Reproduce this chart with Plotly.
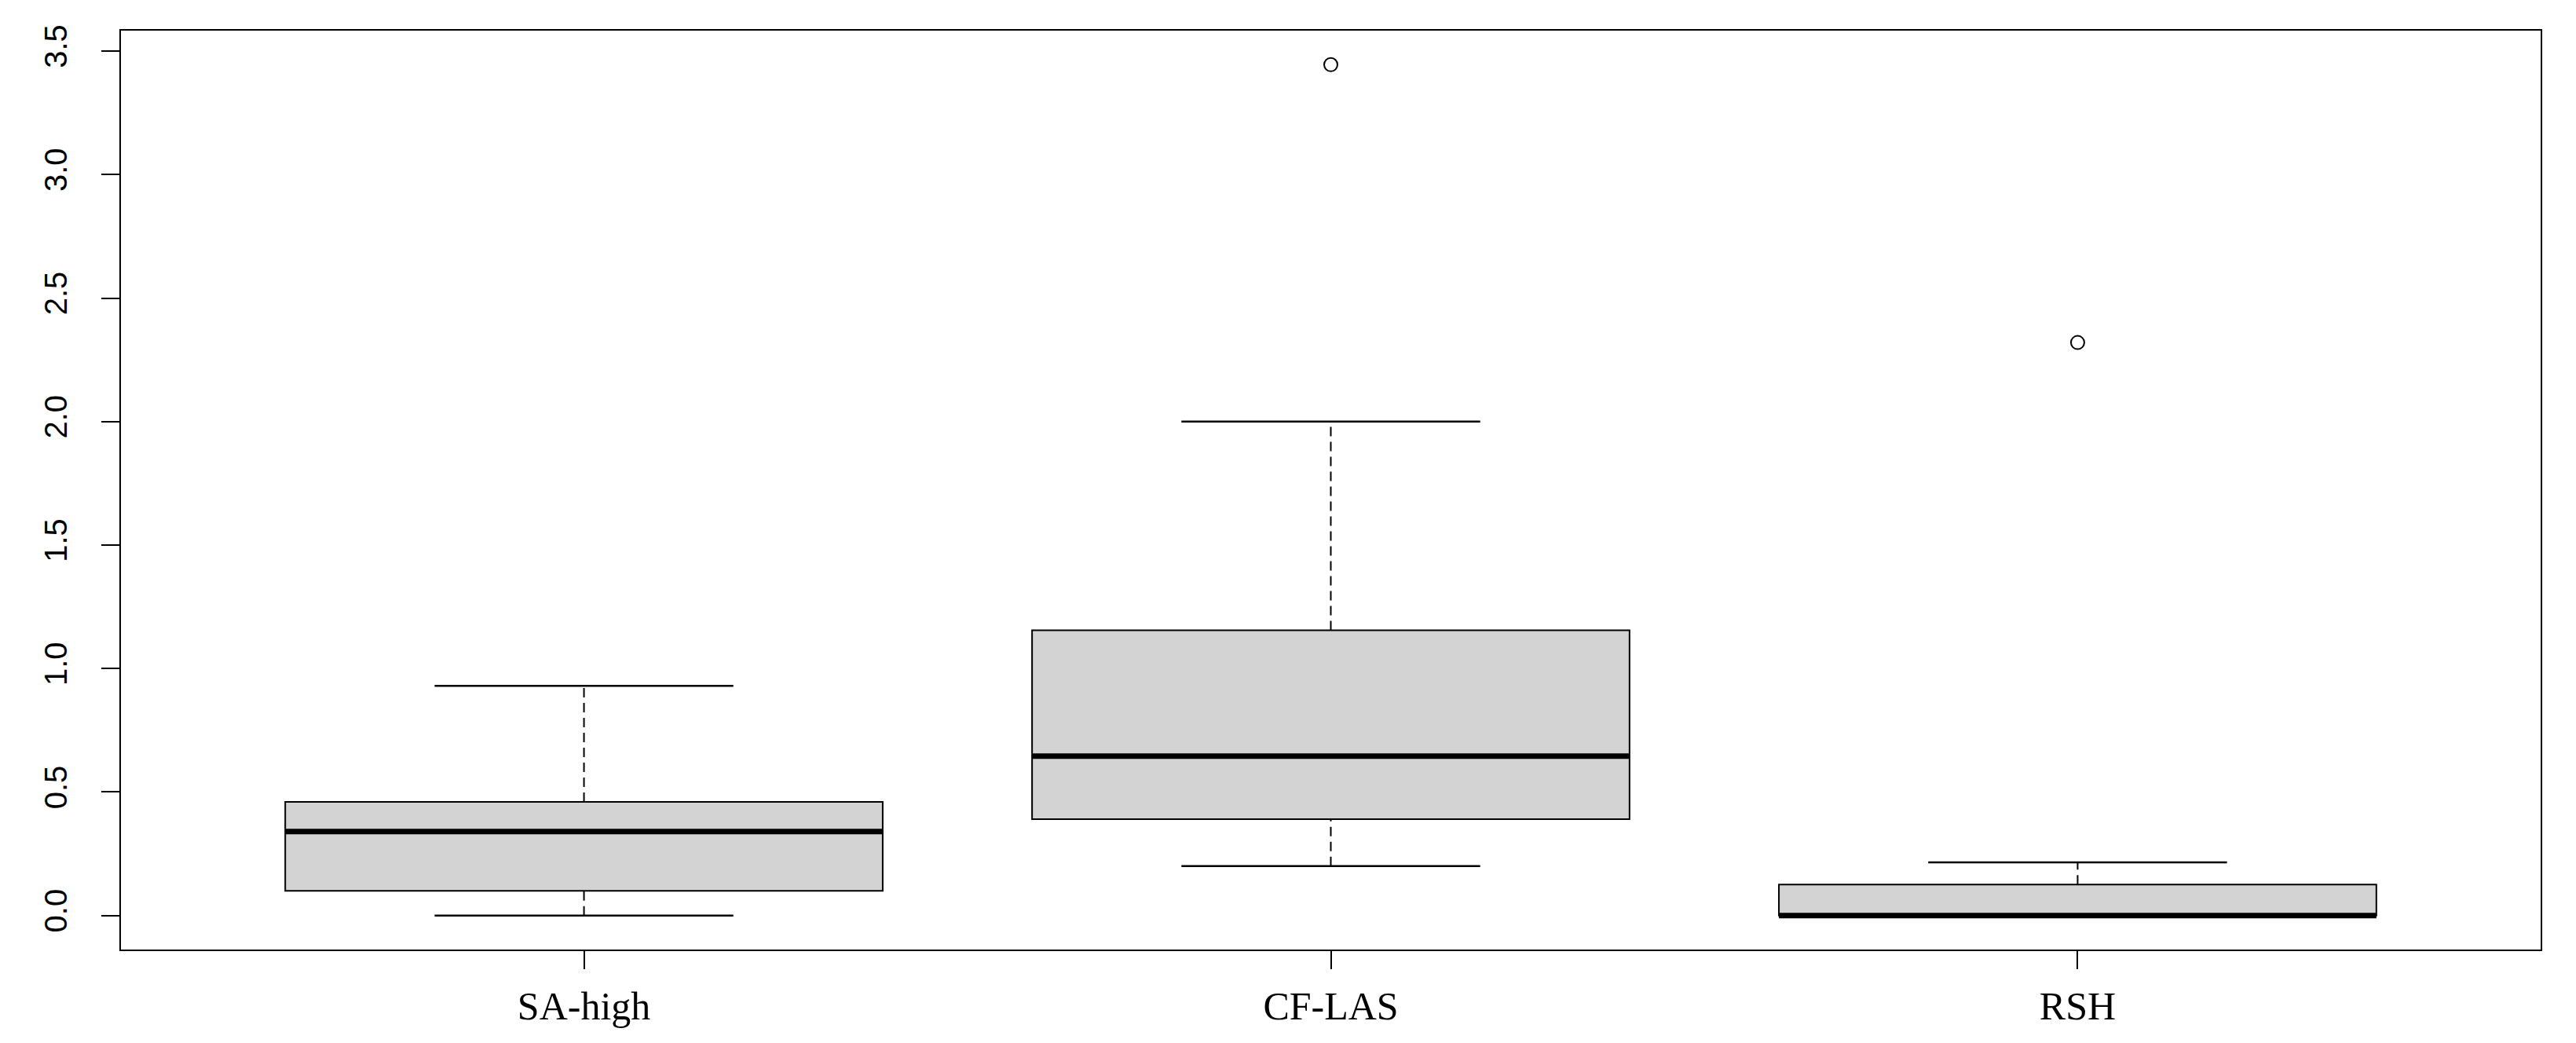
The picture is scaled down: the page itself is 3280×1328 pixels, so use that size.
import plotly.graph_objects as go

# group labels and positions on the x axis
groups = ["SA-high", "CF-LAS", "RSH"]
positions = [1, 2, 3]

# five-number summaries
lower = [0.0, 0.20, 0.0]
q1 = [0.10, 0.39, 0.0]
median = [0.34, 0.645, 0.0]
q3 = [0.46, 1.155, 0.125]
upper = [0.93, 2.0, 0.215]

# points beyond the whiskers
outlier_x = [2, 3]
outlier_y = [3.445, 2.32]

y_ticks = [0.0, 0.5, 1.0, 1.5, 2.0, 2.5, 3.0, 3.5]

BOX_W = 0.8

fig = go.Figure()

# box bodies (whiskers drawn separately so they can be dashed like base R)
for p, a, m, b in zip(positions, q1, median, q3):
    fig.add_trace(go.Box(
        x=[p], q1=[a], median=[m], q3=[b], lowerfence=[a], upperfence=[b],
        width=BOX_W, fillcolor="#D3D3D3", line=dict(color="black", width=2),
        boxpoints=False, hoverinfo="skip", showlegend=False,
    ))

# dashed whisker stems
sx, sy = [], []
for p, lo, a, b, hi in zip(positions, lower, q1, q3, upper):
    sx += [p, p, None, p, p, None]
    sy += [b, hi, None, lo, a, None]
fig.add_trace(go.Scatter(x=sx, y=sy, mode="lines", showlegend=False,
                         line=dict(color="black", width=2, dash="12px,7px")))

# whisker caps, half the box width
cx, cy = [], []
for p, lo, hi in zip(positions, lower, upper):
    for v in (lo, hi):
        cx += [p - BOX_W / 4, p + BOX_W / 4, None]
        cy += [v, v, None]
fig.add_trace(go.Scatter(x=cx, y=cy, mode="lines", showlegend=False,
                         line=dict(color="black", width=2.5)))

# thick median lines
mx, my = [], []
for p, m in zip(positions, median):
    mx += [p - BOX_W / 2, p + BOX_W / 2, None]
    my += [m, m, None]
fig.add_trace(go.Scatter(x=mx, y=my, mode="lines", showlegend=False,
                         line=dict(color="black", width=7)))

# outliers as open circles
fig.add_trace(go.Scatter(x=outlier_x, y=outlier_y, mode="markers", showlegend=False,
                         marker=dict(symbol="circle-open", size=17, color="black",
                                     line=dict(width=2))))

# R-like 4% padding around the data
ymin = min(lower)
ymax = max(outlier_y + upper)
pad = 0.04 * (ymax - ymin)
xpad = 0.04 * len(groups)

# the page body has an 8px default margin, so the figure is 8px smaller
fig.update_layout(
    width=3272, height=1320,
    margin=dict(l=146, r=45, t=31, b=119),
    paper_bgcolor="white", plot_bgcolor="white",
    showlegend=False,
)
fig.update_xaxes(
    range=[0.5 - xpad, len(groups) + 0.5 + xpad],
    tickvals=positions, ticktext=groups,
    tickfont=dict(family="Liberation Serif", size=50, color="black"),
    ticks="outside", ticklen=23, tickwidth=2, tickcolor="black",
    ticklabelstandoff=4,
    showgrid=False, zeroline=False,
    showline=True, mirror=True, linecolor="black", linewidth=2,
)
fig.update_yaxes(
    range=[ymin - pad, ymax + pad],
    tickvals=y_ticks, ticktext=[f"{v:.1f}" for v in y_ticks],
    tickangle=-90,
    tickfont=dict(family="Liberation Sans", size=40, color="black"),
    ticks="outside", ticklen=23, tickwidth=2, tickcolor="black",
    ticklabelstandoff=28,
    showgrid=False, zeroline=False,
    showline=True, mirror=True, linecolor="black", linewidth=2,
)

fig.write_html("out.html")
